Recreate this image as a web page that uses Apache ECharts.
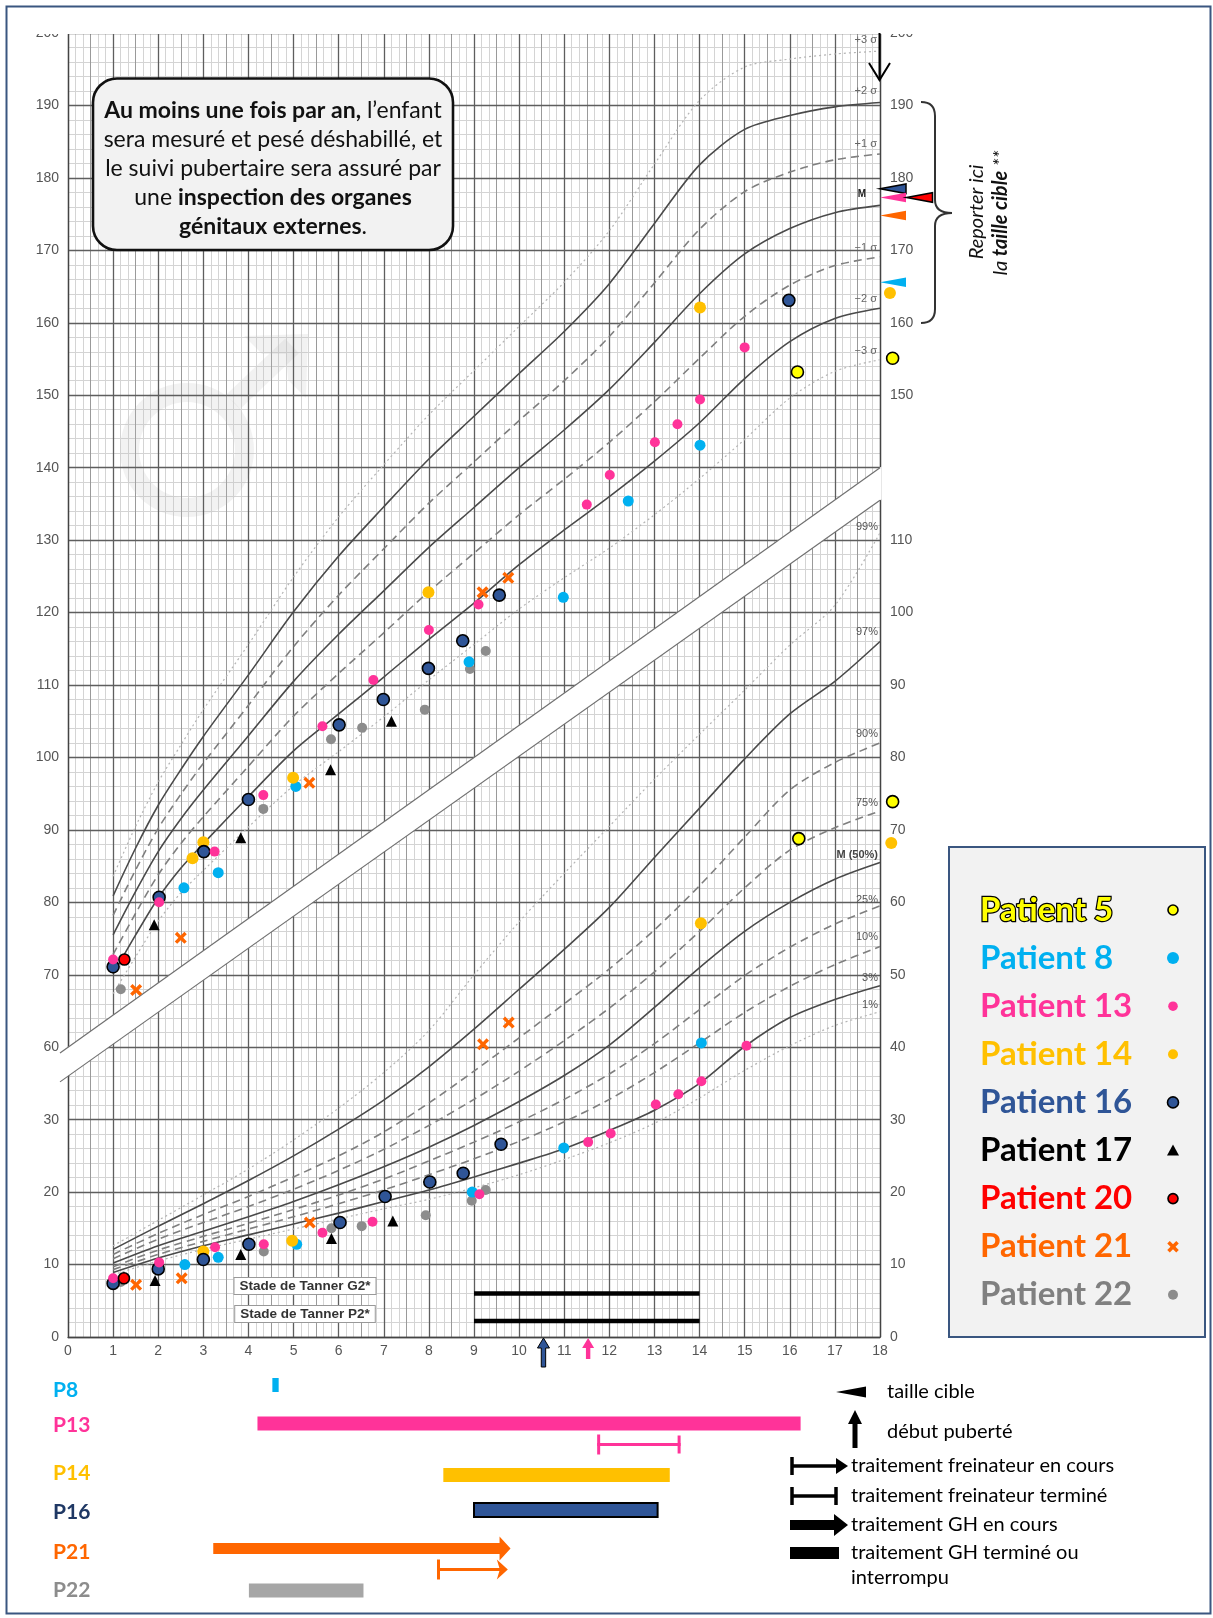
<!DOCTYPE html>
<html>
<head>
<meta charset="utf-8">
<script src="https://cdn.jsdelivr.net/npm/echarts@6/dist/echarts.min.js"></script>
<style>
html,body{margin:0;padding:0;background:#fff;}
#chart{width:1213px;height:1618px;}
</style>
</head>
<body>
<div id="chart"></div>
<script>
// ================= DATA =================
// tick labels
const xTickLabels = ['0','1','2','3','4','5','6','7','8','9','10','11','12','13','14','15','16','17','18'];
const leftTickLabels = ['0','10','20','30','60','70','80','90','100','110','120','130','140','150','160','170','180','190','200'];
const rightTickLabels = ['0','10','20','30','40','50','60','70','80','90','100','110','','150','160','170','180','190','200'];

// height reference curves (cm)
const heightAges = [1,1.5,2,2.5,3,4,5,6,7,8,9,10,11,12,13,14,15,16,17,18];
const hPlus3  = [83.6,90.5,96.6,101.7,106.6,115.6,124.9,133.2,140.4,147.3,153.4,159.5,165.6,172.7,181.9,190.7,195.3,196.4,197.1,197.5];
const hPlus2  = [80.9,87.5,93.4,98.3,102.9,111.4,120.1,127.8,134.6,141.2,147.1,153.0,158.8,165.4,173.7,181.8,186.7,188.6,189.8,190.4];
const hPlus1  = [78.2,84.5,90.2,94.9,99.2,107.2,115.3,122.4,128.8,135.1,140.8,146.5,152.0,158.1,165.5,172.9,178.1,180.8,182.5,183.3];
const hMedian = [75.5,81.5,87.0,91.5,95.5,103.0,110.5,117.0,123.0,129.0,134.5,140.0,145.2,150.8,157.3,164.0,169.5,173.0,175.2,176.2];
const hMinus1 = [72.8,78.5,83.8,88.1,91.8,98.8,105.7,111.6,117.2,122.9,128.2,133.5,138.4,143.5,149.1,155.1,160.9,165.2,167.9,169.1];
const hMinus2 = [70.1,75.5,80.6,84.7,88.1,94.6,100.9,106.0,111.1,116.3,121.3,126.6,131.4,136.0,140.9,146.2,152.3,157.4,160.6,162.0];
const hMinus3 = [67.4,72.5,77.4,81.3,84.4,90.4,96.1,100.8,105.6,110.7,115.6,120.5,124.8,128.9,133.5,138.5,143.9,149.6,153.3,154.9];

// weight reference curves (kg)
const weightAges = [1,2,3,4,5,6,7,8,9,10,11,12,13,14,15,16,17,18];
const w99 = [12.6,16.1,19.6,23.2,27.2,31.6,36.5,42.3,50.0,57.3,64.0,70.5,77.0,83.2,89.3,95.5,101.0,111.0];
const w97 = [12.1,15.3,18.4,21.6,25.0,28.7,32.7,37.3,42.5,48.0,53.5,59.3,66.2,73.0,79.8,86.0,90.5,96.0];
const w90 = [11.4,14.3,16.9,19.4,22.1,25.0,28.3,32.3,36.7,41.3,46.0,50.8,56.2,62.3,69.0,75.5,79.3,82.0];
const w75 = [10.8,13.5,15.8,18.0,20.4,23.0,25.9,29.2,32.8,36.7,40.9,45.4,50.4,56.0,62.0,67.2,70.3,72.6];
const w50 = [10.2,12.6,14.6,16.6,18.7,21.0,23.5,26.2,29.2,32.5,36.1,40.3,45.5,51.0,56.0,60.0,63.2,65.5];
const w25 = [9.7,12.0,13.9,15.7,17.6,19.6,21.8,24.3,26.9,29.7,32.8,36.3,40.5,45.2,49.9,53.8,57.0,59.5];
const w10 = [9.3,11.4,13.2,14.9,16.6,18.4,20.3,22.4,24.6,27.0,29.7,32.8,36.5,40.6,44.8,48.4,51.4,53.9];
const w03 = [8.9,10.9,12.6,14.1,15.6,17.1,18.7,20.3,22.1,24.0,26.0,28.5,31.3,35.0,40.1,44.1,46.6,48.5];
const w01 = [8.6,10.5,12.1,13.5,14.9,16.3,17.7,19.0,20.6,22.4,24.5,26.8,29.5,33.0,36.8,40.2,43.0,44.9];

// patients: [age, value]
const p5Height  = [[16.17,153.2],[18.28,155.1]];
const p5Weight  = [[16.2,68.8],[18.28,73.9]];
const p8Height  = [[2.57,82.0],[3.33,84.1],[5.05,96.0],[8.89,113.2],[10.98,122.1],[12.42,135.4],[14.01,143.1]];
const p8Weight  = [[2.59,10.0],[3.33,11.0],[5.07,12.8],[8.96,20.0],[10.99,26.1],[14.04,40.6]];
const p13Height = [[1.0,72.1],[2.02,80.0],[3.25,87.0],[4.33,94.8],[5.64,104.3],[6.77,110.7],[8.0,117.6],[9.1,121.1],[11.5,134.9],[12.01,139.0],[13.01,143.5],[13.51,146.0],[14.01,149.4],[15.0,156.6]];
const p13Weight = [[1.0,8.1],[2.02,10.3],[3.26,12.4],[4.34,12.8],[5.64,14.4],[6.75,15.9],[9.12,19.7],[11.53,26.9],[12.03,28.1],[13.03,32.1],[13.53,33.5],[14.04,35.3],[15.04,40.2]];
const p14Height = [[2.76,86.1],[3.0,88.3],[4.99,97.2],[7.99,122.8],[14.01,162.1],[18.22,164.1]];
const p14Weight = [[3.0,11.8],[4.97,13.3],[14.03,57.1],[18.25,68.2]];
const p16Height = [[1.0,71.1],[2.02,80.7],[3.01,87.0],[4.0,94.2],[6.01,104.5],[6.99,108.0],[7.99,112.3],[8.75,116.1],[9.56,122.4],[15.98,163.1]];
const p16Weight = [[1.0,7.4],[2.0,9.4],[3.0,10.7],[4.01,12.8],[6.03,15.8],[7.03,19.4],[8.02,21.4],[8.76,22.6],[9.6,26.6]];
const p17Height = [[1.91,76.9],[3.83,88.9],[5.82,98.3],[7.17,105.0]];
const p17Weight = [[1.93,7.8],[3.83,11.4],[5.84,13.6],[7.2,16.0]];
const p20Height = [[1.25,72.1]];
const p20Weight = [[1.24,8.1]];
const p21Height = [[1.51,67.9],[2.5,75.1],[5.35,96.5],[9.19,122.8],[9.76,124.8]];
const p21Weight = [[1.51,7.2],[2.52,8.1],[5.36,15.8],[9.2,40.4],[9.77,43.4]];
const p22Height = [[1.17,68.0],[4.33,92.9],[5.83,102.5],[6.52,104.1],[7.91,106.6],[8.91,112.2],[9.26,114.7]];
const p22Weight = [[1.17,7.6],[4.34,11.8],[5.84,15.0],[6.51,15.3],[7.93,16.8],[8.95,18.8],[9.26,20.3]];

// target heights (cm)
const targetPatients = ['P16','P13','P20','P21','P8'];
const targetHeights  = [178.5,177.3,177.3,174.8,165.6];
// puberty onset (years)
const pubertyPatients = ['P16','P13'];
const pubertyAges     = [10.54,11.53];
// Tanner normal ranges (years)
const tannerG2Ages = [9,14];
const tannerP2Ages = [9,14];
// treatments (years)
const treatRows    = ['P8','P13','P14','P16','P21','P22'];
const ghStopped    = [['P8',4.53,4.67],['P13',4.2,16.24],['P14',8.32,13.34],['P16',9.0,13.07],['P22',4.01,6.55]];
const ghOngoing    = [['P21',3.22,9.81]];
const brakeStopped = [['P13',11.73,13.58]];
const brakeOngoing = [['P21',8.18,9.75]];
// separator band between the height and weight charts (axis units)
const bandAges  = [0,18];
const bandUpper = [40,120];
const bandLower = [36,115.5];

// ================= STYLES / LAYOUT =================
const HOFF = 20; // height cm -> shared axis unit
const PAT = {
  P5:  {name:'Patient 5',  color:'#ffff00', border:'#000', size:12, txt:'#ffff00', txtStroke:'#000'},
  P8:  {name:'Patient 8',  color:'#00b0f0', size:11, txt:'#00b0f0'},
  P13: {name:'Patient 13', color:'#ff3399', size:10, txt:'#ff3399'},
  P14: {name:'Patient 14', color:'#ffc000', size:12, txt:'#ffc000'},
  P16: {name:'Patient 16', color:'#2f5597', border:'#000', size:12, txt:'#2f5597'},
  P17: {name:'Patient 17', color:'#000000', size:11, symbol:'triangle', txt:'#000'},
  P20: {name:'Patient 20', color:'#ff0000', border:'#000', size:11, txt:'#ff0000'},
  P21: {name:'Patient 21', color:'#ff6600', size:12, symbol:'x', txt:'#ff6600'},
  P22: {name:'Patient 22', color:'#8c8c8c', size:10, txt:'#808080'}
};
const XPATH = 'path://M2,0L5,3L8,0L10,2L7,5L10,8L8,10L5,7L2,10L0,8L3,5L0,2Z';
const rowY = {P8:1385, P13:1423.5, P14:1475, P16:1510, P21:1548.5, P22:1590.5};
const rowColor = {P8:'#00b0f0', P13:'#ff3399', P14:'#ffc000', P16:'#2f5597', P21:'#ff6600', P22:'#a6a6a6'};
const rowLabelColor = {P8:'#00b0f0', P13:'#ff3399', P14:'#ffc000', P16:'#1f3864', P21:'#ff6600', P22:'#8c8c8c'};
const tannerLevels = {G2:6.0, P2:2.2};

const AXF = '"Liberation Sans", Arial, sans-serif';
const solid  = {color:'#4a4a4a', width:1.6, type:'solid'};
const dashed = {color:'#7f7f7f', width:1.6, type:[8,5]};
const dotted = {color:'#b4b4b4', width:1.2, type:[2,3]};

// ================= SERIES =================
const series = [];
function addCurve(ages, vals, off, ls){
  series.push({type:'line', xAxisIndex:0, yAxisIndex:0, silent:true, z:5,
    data: ages.map((a,i)=>[a, vals[i]-off]), symbol:'none', showSymbol:false,
    smooth:0.3, lineStyle:ls});
}
// white band
series.push({type:'custom', xAxisIndex:0, yAxisIndex:0, z:4, silent:true, data:[[0,0]],
  renderItem(params, api){
    const ul = api.coord([bandAges[0], bandUpper[0]]), ur = api.coord([bandAges[1], bandUpper[1]]);
    const ll = api.coord([bandAges[0], bandLower[0]]), lr = api.coord([bandAges[1], bandLower[1]]);
    const su = (ur[1]-ul[1])/(ur[0]-ul[0]), sl = (lr[1]-ll[1])/(lr[0]-ll[0]);
    const L = 8, R = 1.5;
    const ul2=[ul[0]-L, ul[1]-su*L], ll2=[ll[0]-L, ll[1]-sl*L];
    const ur2=[ur[0]+R, ur[1]+su*R], lr2=[lr[0]+R, lr[1]+sl*R];
    return {type:'group', children:[
      {type:'polygon', shape:{points:[ul2,ur2,lr2,ll2]}, style:{fill:'#ffffff'}},
      {type:'line', shape:{x1:ul2[0],y1:ul2[1],x2:ur[0],y2:ur[1]}, style:{stroke:'#707070', lineWidth:1.2}},
      {type:'line', shape:{x1:ll2[0],y1:ll2[1],x2:lr[0],y2:lr[1]}, style:{stroke:'#707070', lineWidth:1.2}}
    ]};
  }});

addCurve(heightAges, hPlus3, HOFF, dotted);
addCurve(heightAges, hPlus2, HOFF, solid);
addCurve(heightAges, hPlus1, HOFF, dashed);
addCurve(heightAges, hMedian, HOFF, solid);
addCurve(heightAges, hMinus1, HOFF, dashed);
addCurve(heightAges, hMinus2, HOFF, solid);
addCurve(heightAges, hMinus3, HOFF, dotted);
addCurve(weightAges, w99, 0, dotted);
addCurve(weightAges, w97, 0, solid);
addCurve(weightAges, w90, 0, dashed);
addCurve(weightAges, w75, 0, dashed);
addCurve(weightAges, w50, 0, solid);
addCurve(weightAges, w25, 0, dashed);
addCurve(weightAges, w10, 0, dashed);
addCurve(weightAges, w03, 0, solid);
addCurve(weightAges, w01, 0, dotted);

// Tanner ranges
[['G2',tannerG2Ages],['P2',tannerP2Ages]].forEach(([k,r])=>{
  series.push({type:'line', silent:true, z:6, symbol:'none', data:[[r[0],tannerLevels[k]],[r[1],tannerLevels[k]]],
    lineStyle:{color:'#000', width:4.5}});
});

// patients
function addPatient(key, hData, wData){
  const s = PAT[key];
  const sym = s.symbol==='triangle' ? 'triangle' : (s.symbol==='x' ? XPATH : 'circle');
  series.push({type:'scatter', name:s.name, clip:false, silent:true, z:10,
    symbol:sym, symbolSize:s.size, symbolKeepAspect:true,
    itemStyle:{color:s.color, borderColor:s.border||s.color, borderWidth:s.border?1.6:0, opacity:1},
    data: hData.map(d=>[d[0], d[1]-HOFF]).concat(wData.map(d=>[d[0], d[1]]))});
}
addPatient('P22', p22Height, p22Weight);
addPatient('P8',  p8Height,  p8Weight);
addPatient('P14', p14Height, p14Weight);
addPatient('P16', p16Height, p16Weight);
addPatient('P13', p13Height, p13Weight);
addPatient('P17', p17Height, p17Weight);
addPatient('P20', p20Height, p20Weight);
addPatient('P21', p21Height, p21Weight);
addPatient('P5',  p5Height,  p5Weight);

// target height triangles
series.push({type:'custom', xAxisIndex:0, yAxisIndex:0, z:12, silent:true,
  data: targetHeights.map((h,i)=>[18, h-HOFF, i]),
  renderItem(params, api){
    const i = api.value(2), p = api.coord([api.value(0), api.value(1)]);
    let slot = 0; for (let j=0;j<i;j++) if (targetHeights[j]===targetHeights[i]) slot++;
    const key = targetPatients[i], s = PAT[key];
    const x0 = p[0] + slot*26.5, y = p[1];
    return {type:'polygon', shape:{points:[[x0,y],[x0+26,y-4.8],[x0+26,y+4.8]]},
      style:{fill:s.color, stroke:s.border||null, lineWidth:s.border?1.5:0}};
  }});

// puberty arrows
series.push({type:'custom', xAxisIndex:0, yAxisIndex:0, z:12, silent:true,
  data: pubertyAges.map((a,i)=>[a, 0, i]),
  renderItem(params, api){
    const i = api.value(2), p = api.coord([api.value(0), 0]);
    const s = PAT[pubertyPatients[i]], x = p[0], y = p[1]+1;
    const len = i===0 ? 29 : 21;
    return {type:'polygon', shape:{points:[[x,y],[x+6,y+10],[x+2.2,y+10],[x+2.2,y+len],[x-2.2,y+len],[x-2.2,y+10],[x-6,y+10]]},
      style:{fill:s.color, stroke: i===0 ? '#000' : null, lineWidth:1}};
  }});

// treatment bars below the chart
const treatItems = [].concat(
  ghStopped.map(d=>[d[1], d[2], 0, treatRows.indexOf(d[0])]),
  ghOngoing.map(d=>[d[1], d[2], 1, treatRows.indexOf(d[0])]),
  brakeStopped.map(d=>[d[1], d[2], 2, treatRows.indexOf(d[0])]),
  brakeOngoing.map(d=>[d[1], d[2], 3, treatRows.indexOf(d[0])])
);
series.push({type:'custom', xAxisIndex:0, yAxisIndex:0, z:12, silent:true, data: treatItems,
  renderItem(params, api){
    const x0 = api.coord([api.value(0),0])[0], x1 = api.coord([api.value(1),0])[0];
    const kind = api.value(2), row = treatRows[api.value(3)];
    const c = rowColor[row];
    if (kind===0){
      const y = rowY[row];
      return {type:'rect', shape:{x:x0, y:y-7, width:x1-x0, height:14},
        style:{fill:c, stroke: row==='P16' ? '#000' : null, lineWidth: row==='P16' ? 2 : 0}};
    }
    if (kind===1){
      const y = rowY[row];
      return {type:'polygon', shape:{points:[[x0,y-5.5],[x1-11,y-5.5],[x1-11,y-12],[x1,y],[x1-11,y+12],[x1-11,y+5.5],[x0,y+5.5]]}, style:{fill:c}};
    }
    const y = rowY[row] + 21;
    const ch = [
      {type:'line', shape:{x1:x0, y1:y, x2: kind===3 ? x1-6 : x1, y2:y}, style:{stroke:c, lineWidth:3}},
      {type:'line', shape:{x1:x0+1.5, y1:y-10, x2:x0+1.5, y2:y+10}, style:{stroke:c, lineWidth:3}}
    ];
    if (kind===2) ch.push({type:'line', shape:{x1:x1-1.5, y1:y-9, x2:x1-1.5, y2:y+9}, style:{stroke:c, lineWidth:3}});
    else ch.push({type:'polygon', shape:{points:[[x1-11,y-10],[x1,y],[x1-11,y+10],[x1-8,y]]}, style:{fill:c}});
    return {type:'group', children:ch};
  }});

// ================= GRAPHIC (layout decorations) =================
const G = [];
function T(x, y, text, st, extra){
  G.push(Object.assign({type:'text', x:x, y:y, z:30, silent:true,
    style:Object.assign({text:text, fill:'#000', fontFamily:'Lato', fontSize:14, fontWeight:'normal',
      textAlign:'left', align:'left', textVerticalAlign:'middle', verticalAlign:'middle'}, st||{})}, extra||{}));
}
// watermark male symbol
const WM = 'rgba(190,190,190,0.2)';
G.push({type:'ring', z:3, silent:true, shape:{cx:187, cy:450, r:67, r0:48}, style:{fill:WM}});
G.push({type:'line', z:3, silent:true, shape:{x1:233, y1:402, x2:292, y2:346}, style:{stroke:WM, lineWidth:20}});
G.push({type:'polygon', z:3, silent:true, shape:{points:[[244,336],[308,334],[306,398],[288,380],[286,354],[262,354]]}, style:{fill:WM}});

// cover above top of grid (paper chart cut)
G.push({type:'rect', z:40, silent:true, shape:{x:20, y:9, width:1185, height:25}, style:{fill:'#fff'}});
// outer frame
G.push({type:'rect', z:60, silent:true, shape:{x:6.5, y:6.5, width:1204, height:1607}, style:{fill:null, stroke:'#3a5680', lineWidth:2}});

// text box
G.push({type:'rect', z:25, silent:true, shape:{x:93, y:78.5, width:360, height:171.5, r:24}, style:{fill:'#f2f2f2', stroke:'#111', lineWidth:2.6}});
T(273, 168.5, '{b|Au moins une fois par an,} l’enfant\nsera mesuré et pesé déshabillé, et\nle suivi pubertaire sera assuré par\nune {b|inspection des organes}\n{b|génitaux externes}.',
  {fontSize:23, lineHeight:29, textAlign:'center', align:'center', fill:'#111',
   rich:{b:{fontWeight:'bold', fontSize:23, fontFamily:'Lato', lineHeight:29, fill:'#111'}}});

// sigma labels
[['+3 σ',40],['+2 σ',90.7],['+1 σ',144],['−1 σ',248.3],['−2 σ',299.3],['−3 σ',350.7]].forEach(([t,y])=>
  T(877, y, t, {fontFamily:AXF, fontSize:11, fill:'#666', textAlign:'right', align:'right'}));
T(866, 194.3, 'M', {fontFamily:AXF, fontSize:10, fontWeight:'bold', fill:'#222', textAlign:'right', align:'right'});
// percentile labels
[['99%',526.8],['97%',632],['90%',733.8],['75%',802.7],['25%',900],['10%',937.3],['3%',977.7],['1%',1005.2]].forEach(([t,y])=>
  T(878, y, t, {fontFamily:AXF, fontSize:11, fill:'#555', textAlign:'right', align:'right'}));
T(878, 855.2, 'M (50%)', {fontFamily:AXF, fontSize:11, fontWeight:'bold', fill:'#444', textAlign:'right', align:'right'});

// Tanner label boxes
T(305, 1286, 'Stade de Tanner G2*', {fontFamily:AXF, fontSize:13.5, fontWeight:'bold', fill:'#333', textAlign:'center', align:'center',
  backgroundColor:'#fff', borderColor:'#999', borderWidth:1, padding:[1,5,1,5]});
T(305, 1314, 'Stade de Tanner P2*', {fontFamily:AXF, fontSize:13.5, fontWeight:'bold', fill:'#333', textAlign:'center', align:'center',
  backgroundColor:'#fff', borderColor:'#999', borderWidth:1, padding:[1,5,1,5]});

// down arrow at top right
G.push({type:'line', z:45, silent:true, shape:{x1:879.5, y1:33, x2:879.5, y2:80}, style:{stroke:'#000', lineWidth:2}});
G.push({type:'polyline', z:45, silent:true, shape:{points:[[869,63],[879.5,80],[890,63]]}, style:{stroke:'#000', lineWidth:2, fill:null}});

// brace and "Reporter ici"
const braceStyle = {stroke:'#333', lineWidth:2, fill:null};
G.push({type:'bezierCurve', z:30, silent:true, shape:{x1:921,y1:102,x2:935,y2:116,cpx1:935,cpy1:102}, style:braceStyle});
G.push({type:'line', z:30, silent:true, shape:{x1:935,y1:116,x2:935,y2:200}, style:braceStyle});
G.push({type:'bezierCurve', z:30, silent:true, shape:{x1:935,y1:200,x2:952,y2:213,cpx1:935,cpy1:213}, style:braceStyle});
G.push({type:'bezierCurve', z:30, silent:true, shape:{x1:952,y1:213,x2:935,y2:226,cpx1:935,cpy1:213}, style:braceStyle});
G.push({type:'line', z:30, silent:true, shape:{x1:935,y1:226,x2:935,y2:309}, style:braceStyle});
G.push({type:'bezierCurve', z:30, silent:true, shape:{x1:935,y1:309,x2:921,y2:323,cpx1:935,cpy1:323}, style:braceStyle});
T(976.5, 212, 'Reporter ici', {fontSize:20, fontStyle:'italic', fill:'#111', textAlign:'center', align:'center'}, {rotation:Math.PI/2});
T(1001, 213, 'la {b|taille cible} **', {fontSize:20, fontStyle:'italic', fill:'#111', textAlign:'center', align:'center',
  rich:{b:{fontWeight:'bold', fontStyle:'italic', fontSize:20, fontFamily:'Lato', fill:'#111'}}}, {rotation:Math.PI/2});

// patient legend box
G.push({type:'rect', z:25, silent:true, shape:{x:949, y:847, width:256, height:490}, style:{fill:'#f2f2f2', stroke:'#3a5680', lineWidth:2}});
const legendOrder = ['P5','P8','P13','P14','P16','P17','P20','P21','P22'];
const legendMarkerR = {P5:5, P8:6, P13:4.8, P14:5, P16:5.5, P20:5, P22:5};
legendOrder.forEach((k,i)=>{
  const s = PAT[k], y = 910 + i*48.1, cx = 1173;
  const st = {fontSize:33, fontWeight:'bold', fill:s.txt};
  if (s.txtStroke){ st.stroke = s.txtStroke; st.lineWidth = 2.5; }
  T(980, y, s.name, st);
  if (s.symbol==='triangle'){
    G.push({type:'polygon', z:31, silent:true, shape:{points:[[cx,y-6],[cx+6,y+5],[cx-6,y+5]]}, style:{fill:s.color}});
  } else if (s.symbol==='x'){
    G.push({type:'line', z:31, silent:true, shape:{x1:cx-4.5,y1:y-4.5,x2:cx+4.5,y2:y+4.5}, style:{stroke:s.color, lineWidth:3.6}});
    G.push({type:'line', z:31, silent:true, shape:{x1:cx-4.5,y1:y+4.5,x2:cx+4.5,y2:y-4.5}, style:{stroke:s.color, lineWidth:3.6}});
  } else {
    G.push({type:'circle', z:31, silent:true, shape:{cx:cx, cy:y, r:legendMarkerR[k]}, style:{fill:s.color, stroke:s.border||null, lineWidth:s.border?1.6:0}});
  }
});

// treatment row labels
const rowLabelY = {P8:1390, P13:1425, P14:1473, P16:1512, P21:1552, P22:1590};
treatRows.forEach(r=>T(53, rowLabelY[r], r, {fontSize:21, fontWeight:'bold', fill:rowLabelColor[r]}));

// treatment legend
G.push({type:'polygon', z:30, silent:true, shape:{points:[[836,1392],[866,1386.5],[866,1397.5]]}, style:{fill:'#000'}});
T(887, 1392, 'taille cible', {fontSize:20});
G.push({type:'polygon', z:30, silent:true, shape:{points:[[855,1410],[862,1424],[857.5,1424],[857.5,1448],[852.5,1448],[852.5,1424],[848,1424]]}, style:{fill:'#000'}});
T(887, 1432, 'début puberté', {fontSize:20});
G.push({type:'line', z:30, silent:true, shape:{x1:792,y1:1457,x2:792,y2:1475}, style:{stroke:'#000', lineWidth:3.5}});
G.push({type:'line', z:30, silent:true, shape:{x1:792,y1:1466,x2:840,y2:1466}, style:{stroke:'#000', lineWidth:3.5}});
G.push({type:'polygon', z:30, silent:true, shape:{points:[[836,1458],[848,1466],[836,1474]]}, style:{fill:'#000'}});
T(851, 1466, 'traitement freinateur en cours', {fontSize:20});
G.push({type:'line', z:30, silent:true, shape:{x1:792,y1:1487,x2:792,y2:1505}, style:{stroke:'#000', lineWidth:3.5}});
G.push({type:'line', z:30, silent:true, shape:{x1:836,y1:1487,x2:836,y2:1505}, style:{stroke:'#000', lineWidth:3.5}});
G.push({type:'line', z:30, silent:true, shape:{x1:792,y1:1496,x2:836,y2:1496}, style:{stroke:'#000', lineWidth:3.5}});
T(851, 1496, 'traitement freinateur terminé', {fontSize:20});
G.push({type:'polygon', z:30, silent:true, shape:{points:[[790,1520],[834,1520],[834,1514],[848,1525],[834,1536],[834,1530],[790,1530]]}, style:{fill:'#000'}});
T(851, 1525, 'traitement GH en cours', {fontSize:20});
G.push({type:'rect', z:30, silent:true, shape:{x:790, y:1547, width:49, height:12}, style:{fill:'#000'}});
T(851, 1553, 'traitement GH terminé ou', {fontSize:20});
T(851, 1578, 'interrompu', {fontSize:20});

// ================= OPTION =================
const hiddenAxis = {axisLine:{show:false}, axisTick:{show:false}, axisLabel:{show:false}};
const option = {
  animation:false,
  backgroundColor:'#ffffff',
  grid:{left:68, top:33, width:812, height:1304},
  xAxis:[
    {type:'value', min:0, max:18, interval:1, position:'bottom', z:3,
     axisLine:{show:true, onZero:false, lineStyle:{color:'#444', width:1.3}}, axisTick:{show:false},
     axisLabel:{margin:7, color:'#555', fontSize:14, fontFamily:AXF, showMinLabel:true, showMaxLabel:true,
       formatter:v=>xTickLabels[Math.round(v)] ?? ''},
     splitLine:{show:true, lineStyle:{color:'#5e5e5e', width:1.3}}},
    Object.assign({type:'value', min:0, max:36, interval:1, z:2, splitLine:{show:true, lineStyle:{color:'#9a9a9a', width:1}}}, hiddenAxis),
    Object.assign({type:'value', min:0, max:108, interval:1, z:1, splitLine:{show:true, lineStyle:{color:'#d4d4d4', width:1}}}, hiddenAxis)
  ],
  yAxis:[
    {type:'value', min:0, max:180, interval:10, position:'left', z:3,
     axisLine:{show:true, onZero:false, lineStyle:{color:'#444', width:1.3}}, axisTick:{show:false},
     axisLabel:{margin:9, color:'#555', fontSize:14, fontFamily:AXF, showMinLabel:true, showMaxLabel:true,
       formatter:v=>leftTickLabels[Math.round(v/10)] ?? ''},
     splitLine:{show:true, lineStyle:{color:'#5e5e5e', width:1.3}}},
    {type:'value', min:0, max:180, interval:10, position:'right', z:3,
     axisLine:{show:true, onZero:false, lineStyle:{color:'#444', width:1.3}}, axisTick:{show:false},
     axisLabel:{margin:10, color:'#555', fontSize:14, fontFamily:AXF, showMinLabel:true, showMaxLabel:true,
       formatter:v=>rightTickLabels[Math.round(v/10)] ?? ''},
     splitLine:{show:false}},
    Object.assign({type:'value', min:0, max:90, interval:1, z:1, splitLine:{show:true, lineStyle:{color:'#d4d4d4', width:1}}}, hiddenAxis)
  ],
  series: series,
  graphic:{elements:G}
};
const chart = echarts.init(document.getElementById('chart'), null, {renderer:'canvas'});
chart.setOption(option);
</script>
</body>
</html>
